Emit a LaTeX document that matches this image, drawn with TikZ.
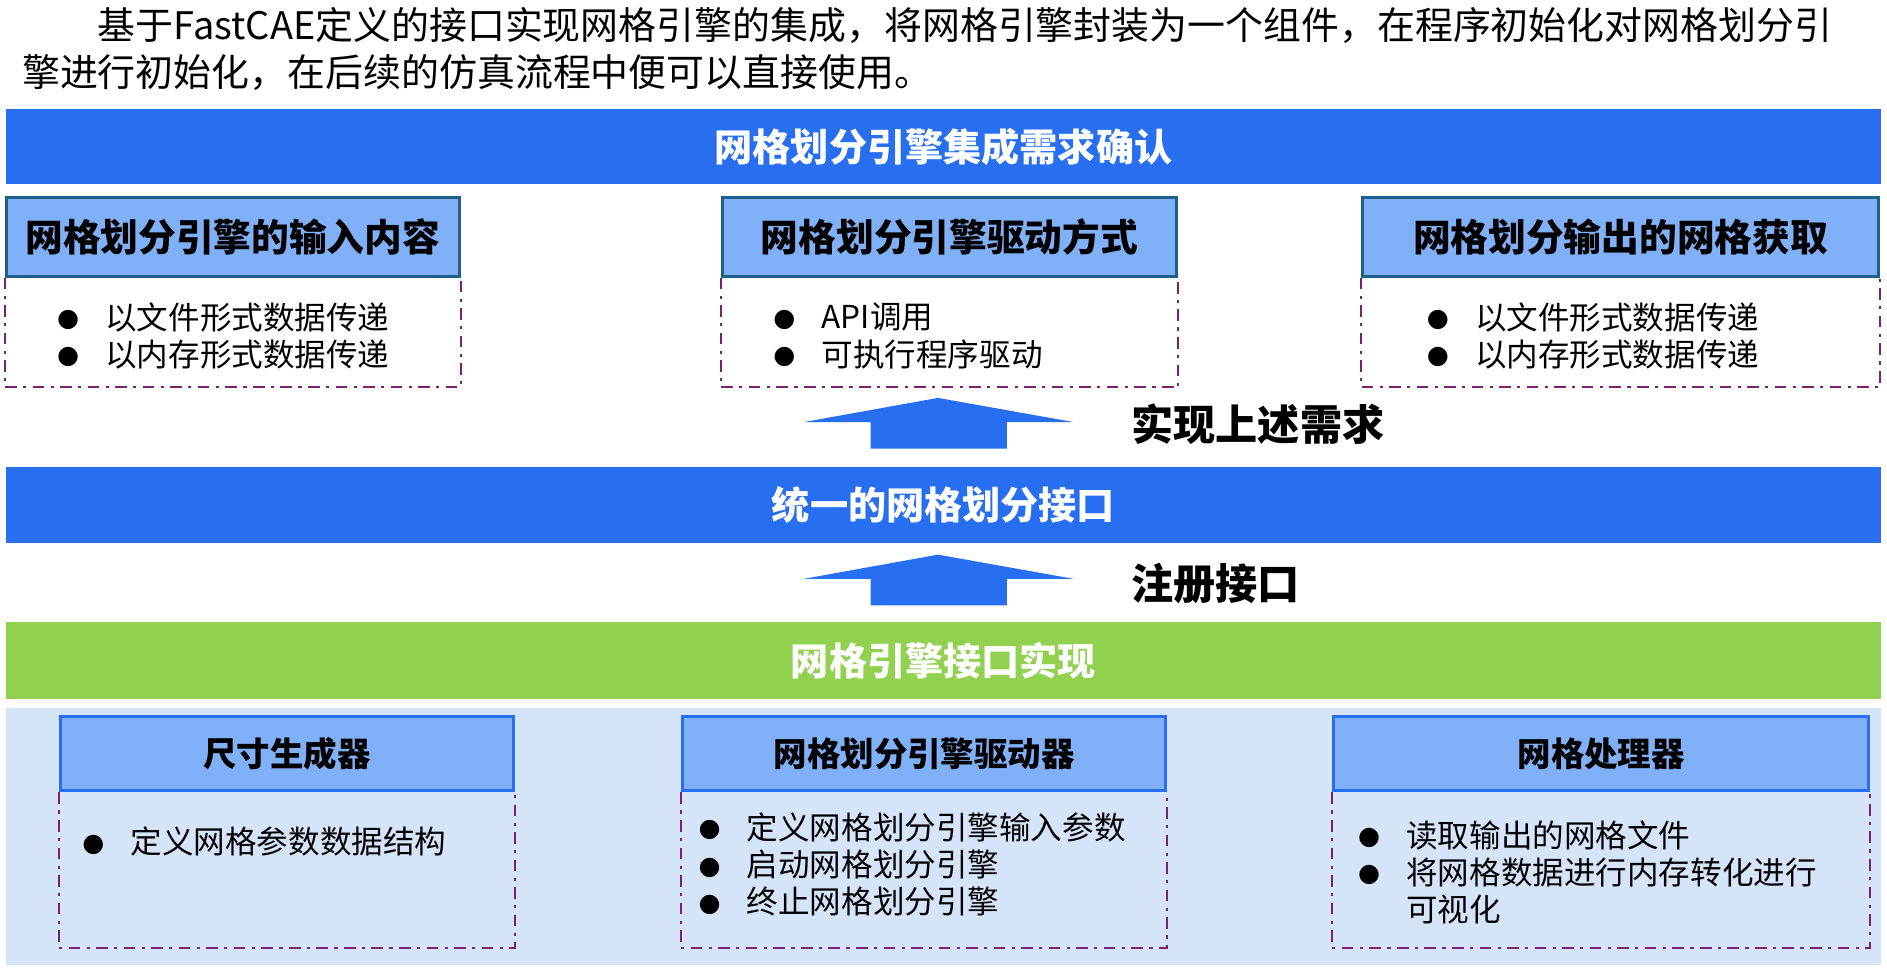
\documentclass[tikz,border=0pt]{standalone}
\usepackage{fontspec}
\setmainfont{Noto Sans CJK SC}
\newfontfamily\symfont{DejaVu Sans}
\usetikzlibrary{positioning}

\definecolor{barblue}{HTML}{276EF1}
\definecolor{headblue}{HTML}{80B0F8}
\definecolor{headedge}{HTML}{1F6088}
\definecolor{panelblue}{HTML}{D5E4F8}
\definecolor{implgreen}{HTML}{92D050}
\definecolor{dashpurple}{HTML}{7B2170}

\newcommand{\bul}{\makebox[1.53em][l]{\raisebox{0.08em}{\scalebox{0.8}{\symfont ●}}}}

\begin{document}
\begin{tikzpicture}[x=0.02cm, y=-0.02cm]

        % Setup the styles for bars, boxes and lists
        \tikzset{bar/.style={minimum width=31.1cm,
                             minimum height=1.26cm,
                             inner sep=0pt,
                             text=white,
                             font=\bfseries\fontsize{18}{22}\selectfont},
                 headbox/.style={draw=headedge,
                                 line width=1.4pt,
                                 fill=headblue,
                                 minimum height=1.3cm,
                                 inner sep=0pt,
                                 font=\bfseries\fontsize{17.8}{21}\selectfont},
                 subhead/.style={headbox,
                                 draw=barblue,
                                 minimum height=1.24cm,
                                 font=\bfseries\fontsize{15.8}{19}\selectfont},
                 bodybox/.style={draw=dashpurple,
                                 line width=0.9pt,
                                 dash pattern=on 5.5pt off 3pt on 1.5pt off 3pt},
                 items/.style={align=left,
                               anchor=west,
                               inner sep=0pt,
                               font=\fontsize{14.9}{17.6}\selectfont},
                 steplabel/.style={anchor=west,
                                   inner sep=0pt,
                                   font=\bfseries\fontsize{19.9}{23}\selectfont}}

        \useasboundingbox (0,0) rectangle (1565,805);

        % Intro text
        \node[anchor=west, align=left, inner sep=0pt,
              font=\fontsize{17.9}{22.2}\selectfont] (intro) at (18,40.5)
            {\hspace*{2em}基于FastCAE定义的接口实现网格引擎的集成，将网格引擎封装为一个组件，在程序初始化对网格划分引\\擎进行初始化，在后续的仿真流程中便可以直接使用。};

        % Requirements
        \node[bar, fill=barblue] at (782.5,121.5) (needs) {网格划分引擎集成需求确认};

        \node[headbox, minimum width=7.52cm] at (193,196.5)  (inputhead)  {网格划分引擎的输入内容};
        \node[headbox, minimum width=7.54cm] at (787.5,196.5) (drivehead) {网格划分引擎驱动方式};
        \node[headbox, minimum width=8.56cm] at (1344,196.5) (outputhead) {网格划分输出的网格获取};

        \draw[bodybox] (inputhead.south west) -- ++(0,91) -| (inputhead.south east);
        \draw[bodybox] (drivehead.south west) -- ++(0,91) -| (drivehead.south east);
        \draw[bodybox] (outputhead.south west) -- ++(0,91) -| (outputhead.south east);

        \node[items] at (47,278.5)   (inputitems)  {\bul 以文件形式数据传递\\\bul 以内存形式数据传递};
        \node[items] at (641,278.5)  (driveitems)  {\bul API调用\\\bul 可执行程序驱动};
        \node[items] at (1183,278.5) (outputitems) {\bul 以文件形式数据传递\\\bul 以内存形式数据传递};

        % Block arrows and their labels
        \foreach \tip in {330,460}
            \fill[barblue] (778,\tip) -- ++(112,20) -- ++(-55,0) -- ++(0,22)
                -- ++(-113,0) -- ++(0,-22) -- ++(-55,0) -- cycle;

        \node[steplabel] at (938,352) (reachlabel) {实现上述需求};
        \node[steplabel] at (938,484) (reglabel)   {注册接口};

        % Interface and implementation
        \node[bar, fill=barblue] at (782.5,418.5) (unified) {统一的网格划分接口};
        \node[bar, fill=implgreen, minimum height=1.28cm] at (782.5,548) (implbar) {网格引擎接口实现};

        \fill[panelblue] (5,587) rectangle (1560,800);

        \node[subhead, minimum width=7.52cm] at (238,625)   (sizehead)   {尺寸生成器};
        \node[subhead, minimum width=8.02cm] at (766.5,625) (enginehead) {网格划分引擎驱动器};
        \node[subhead, minimum width=8.88cm] at (1328,625)  (meshhead)   {网格处理器};

        \draw[bodybox] (sizehead.south west) -- ++(0,129) -| (sizehead.south east);
        \draw[bodybox] (enginehead.south west) -- ++(0,129) -| (enginehead.south east);
        \draw[bodybox] (meshhead.south west) -- ++(0,129) -| (meshhead.south east);

        \node[items] at (68,698)     (sizeitems)   {\bul 定义网格参数数据结构};
        \node[items] at (579,717)    (engineitems) {\bul 定义网格划分引擎输入参数\\\bul 启动网格划分引擎\\\bul 终止网格划分引擎};
        \node[items] at (1126,723.5) (meshitems)   {\bul 读取输出的网格文件\\\bul 将网格数据进行内存转化进行\\\hspace*{1.53em}可视化};
\end{tikzpicture}
\end{document}
